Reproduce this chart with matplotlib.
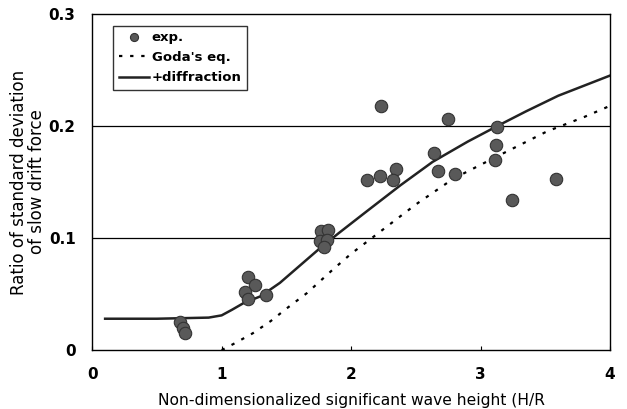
import matplotlib

matplotlib.use("Agg")
import matplotlib.pyplot as plt

plt.rcParams["font.family"] = ["DejaVu Sans"]
plt.rcParams["font.weight"] = "bold"

# experimental points (H/R, ratio)
exp_x = [0.68, 0.70, 0.72, 1.20, 1.26, 1.18, 1.20, 1.34,
         1.77, 1.82, 1.76, 1.81, 1.79,
         2.23, 2.75, 3.13, 2.64, 3.12, 3.11, 2.35, 2.22, 2.12,
         2.32, 2.67, 2.80, 3.58, 3.24]
exp_y = [0.025, 0.020, 0.015, 0.065, 0.058, 0.052, 0.046, 0.049,
         0.106, 0.107, 0.097, 0.098, 0.092,
         0.218, 0.206, 0.199, 0.176, 0.183, 0.170, 0.162, 0.155, 0.152,
         0.152, 0.160, 0.157, 0.153, 0.134]

# Goda's equation (dotted)
goda_x = [1.0, 1.1, 1.24, 1.38, 1.5, 1.66, 1.86, 2.0, 2.16, 2.5, 2.79,
          3.13, 3.51, 3.8, 4.0]
goda_y = [0.0, 0.006, 0.015, 0.026, 0.037, 0.051, 0.072, 0.086, 0.100,
          0.130, 0.153, 0.173, 0.195, 0.208, 0.218]

# + diffraction (solid)
diff_x = [0.1, 0.5, 0.9, 1.0, 1.08, 1.17, 1.30, 1.45, 1.6, 1.76, 1.9,
          2.1, 2.38, 2.63, 2.9, 3.13, 3.35, 3.6, 3.8, 4.0]
diff_y = [0.028, 0.028, 0.029, 0.031, 0.036, 0.042, 0.048, 0.060, 0.075,
          0.091, 0.104, 0.122, 0.147, 0.168, 0.186, 0.200, 0.213, 0.227,
          0.236, 0.245]

fig = plt.figure(figsize=(6.27, 4.09), dpi=100)
ax = fig.add_axes([0.147, 0.144, 0.826, 0.822])

for gy in (0.1, 0.2):
    ax.axhline(gy, color="black", lw=0.9, zorder=1)

ax.scatter(exp_x, exp_y, s=80, color="#595959", edgecolors="#333333",
           linewidths=0.8, zorder=3, label="exp.")
ax.plot(goda_x, goda_y, color="black", lw=1.6, ls=(0, (1.5, 3.5)),
        zorder=2, label="Goda's eq.")
ax.plot(diff_x, diff_y, color="#222222", lw=1.8, zorder=2, label="+diffraction")

ax.set_xlim(0, 4)
ax.set_ylim(0, 0.3)
ax.set_xticks([0, 1, 2, 3, 4])
ax.set_yticks([0, 0.1, 0.2, 0.3])
ax.set_yticklabels(["0", "0.1", "0.2", "0.3"])
ax.tick_params(axis="y", labelsize=11, length=0, pad=12)
ax.tick_params(axis="x", labelsize=11, direction="in", length=3, pad=12)
for sp in ax.spines.values():
    sp.set_linewidth(1.0)

ax.set_xlabel("Non-dimensionalized significant wave height (H/R",
              fontsize=11.2, labelpad=8)
ax.set_ylabel("Ratio of standard deviation\nof slow drift force",
              fontsize=12, labelpad=2, linespacing=1.0)

leg = ax.legend(loc="upper left", bbox_to_anchor=(0.028, 0.985), fontsize=9.5,
                frameon=True, fancybox=False, edgecolor="black",
                borderpad=0.4, handlelength=2.3, handletextpad=0.2,
                labelspacing=0.55, markerscale=0.65)
leg.get_frame().set_linewidth(1.0)

fig.savefig("out.png", dpi=100)
